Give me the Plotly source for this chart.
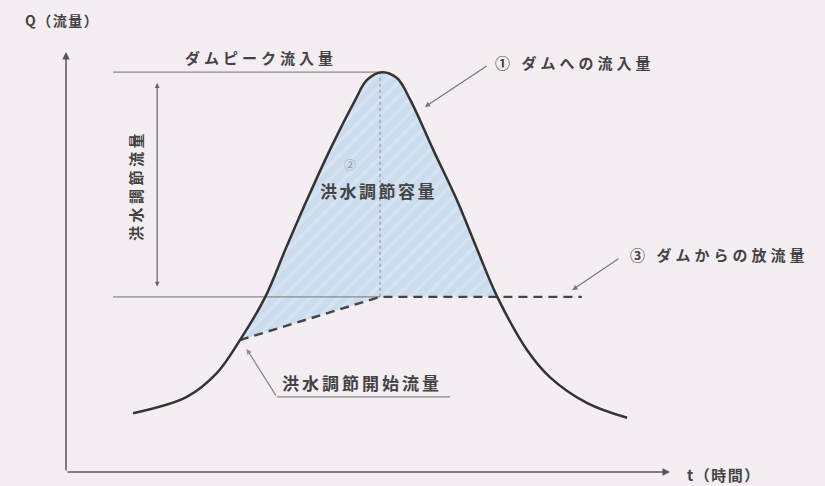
import plotly.graph_objects as go

# ---- data (schematic units: t 0-100, Q 0-100) ----
t_inflow = [11.1, 20.0, 25.0, 28.8, 33.0, 36.3, 39.9, 43.7, 47.9, 49.8, 52.3, 54.8, 57.0, 60.8, 64.7, 68.1, 71.4, 76.3, 80.1, 86.3, 92.9]
q_inflow = [14.0, 17.9, 23.6, 31.4, 41.7, 52.9, 64.8, 76.7, 88.6, 93.3, 95.2, 93.8, 88.6, 76.7, 64.8, 52.9, 41.7, 29.1, 22.6, 16.4, 12.9]

t_release = [28.8, 52.0, 85.4]
q_release = [31.4, 41.7, 41.7]

t_fill_end = 71.4          # where inflow falls back to the controlled outflow
q_peak = 95.2
q_control = 41.7
t_peak = 52.0
t_guide_start = 7.8
t_span_arrow = 15.1
q_span_top = 92.6
q_span_bottom = 43.8

FONT = "Noto Sans CJK JP"
TXT = "#434343"
BG = "#f4eef2"

fig = go.Figure()

# shaded storage volume: between controlled release and inflow curve
fig.add_trace(go.Scatter(
    x=t_release[:2] + [t_fill_end], y=q_release[:2] + [q_control],
    mode="lines", line=dict(width=0), hoverinfo="skip", showlegend=False))
fig.add_trace(go.Scatter(
    x=t_inflow[3:17], y=q_inflow[3:17], mode="lines",
    line=dict(width=0, shape="spline"), fill="tonexty",
    fillcolor="#cbdcee",
    fillpattern=dict(shape="/", bgcolor="#cbdcee", fgcolor="#e2ebf5", size=10, solidity=0.35),
    hoverinfo="skip", showlegend=False))

# guide lines
fig.add_trace(go.Scatter(x=[t_guide_start, t_peak], y=[q_peak, q_peak], mode="lines",
                         line=dict(color="#8a8a8a", width=1.3), showlegend=False))
fig.add_trace(go.Scatter(x=[t_guide_start, t_peak], y=[q_control, q_control], mode="lines",
                         line=dict(color="#8a8a8a", width=1.3), showlegend=False))
fig.add_trace(go.Scatter(x=[t_peak, t_peak], y=[q_control, q_peak], mode="lines",
                         line=dict(color="#8a8a8a", width=1, dash="dot"), showlegend=False))

# release (dashed)
fig.add_trace(go.Scatter(x=t_release, y=q_release, mode="lines",
                         line=dict(color="#444444", width=2.4, dash="9px,6px"), showlegend=False))

# inflow curve
fig.add_trace(go.Scatter(x=t_inflow, y=q_inflow, mode="lines",
                         line=dict(color="#333333", width=2.5, shape="spline"), showlegend=False))

# leader for 洪水調節開始流量
lead_t = [34.9, 63.6]
lead_q = [17.9, 17.9]
fig.add_trace(go.Scatter(x=lead_t, y=lead_q, mode="lines",
                         line=dict(color="#8a8a8a", width=1.3), showlegend=False))

ann = []
def arrow(xh, yh, xt, yt, color="#555555", width=1.5, size=1.0, side="end"):
    ann.append(dict(x=xh, y=yh, ax=xt, ay=yt, xref="x", yref="y", axref="x", ayref="y",
                    text="", showarrow=True, arrowhead=2, startarrowhead=2, arrowside=side,
                    arrowsize=size, arrowwidth=width, arrowcolor=color))

def label(x, y, text, size, xanchor="center", angle=0, color=TXT, spacing=0, weight="bold"):
    if spacing:
        text = f'<span style="letter-spacing:{spacing}px">{text}</span>'
    ann.append(dict(x=x, y=y, xref="x", yref="y", text=text, showarrow=False,
                    xanchor=xanchor, yanchor="middle", textangle=angle,
                    font=dict(family=FONT, size=size, color=color, weight=weight)))

# axes
arrow(100, 0, 0, 0)
arrow(0, 100, 0, 0)
# span arrow
arrow(t_span_arrow, q_span_top, t_span_arrow, q_span_bottom, color="#666666", width=1.2, size=0.8, side="end+start")
# pointer arrows
arrow(59.4, 86.9, 69.9, 96.9, color="#777777", width=1.2, size=0.9)
arrow(83.8, 43.3, 91.7, 51.0, color="#777777", width=1.2, size=0.9)
arrow(29.9, 29.3, 34.9, 17.9, color="#8a8a8a", width=1.3, size=0.8)

label(-0.7, 107.6, "Q（流量）", 14, spacing=1.5)
label(102.5, -0.7, "t（時間）", 15, xanchor="left", spacing=1.5)
label(32.3, 98.8, "ダムピーク流入量", 15, spacing=4)
label(70.7, 97.4, "① ダムへの流入量", 15, xanchor="left", spacing=4)
label(93.0, 51.7, "③ ダムからの放流量", 15, xanchor="left", spacing=4)
label(47.0, 73.1, "②", 12, color="#9a9a9a", weight="normal")
label(51.7, 67.1, "洪水調節容量", 17, spacing=2.5)
label(49.0, 21.4, "洪水調節開始流量", 17, spacing=3)
label(11.6, 68.1, "洪水調節流量", 15, angle=-90, spacing=3.5)

fig.update_layout(
    width=825, height=486,
    margin=dict(l=0, r=0, t=0, b=0),
    paper_bgcolor=BG, plot_bgcolor=BG,
    xaxis=dict(range=[-66 / 6.04, (825 - 66) / 6.04], visible=False, fixedrange=True),
    yaxis=dict(range=[(472 - 486) / 4.2, 472 / 4.2], visible=False, fixedrange=True),
    annotations=ann,
    showlegend=False,
)

fig.write_html("out.html", config={"displayModeBar": False},
               post_script="document.body.style.margin='0';document.body.style.overflow='hidden';")
